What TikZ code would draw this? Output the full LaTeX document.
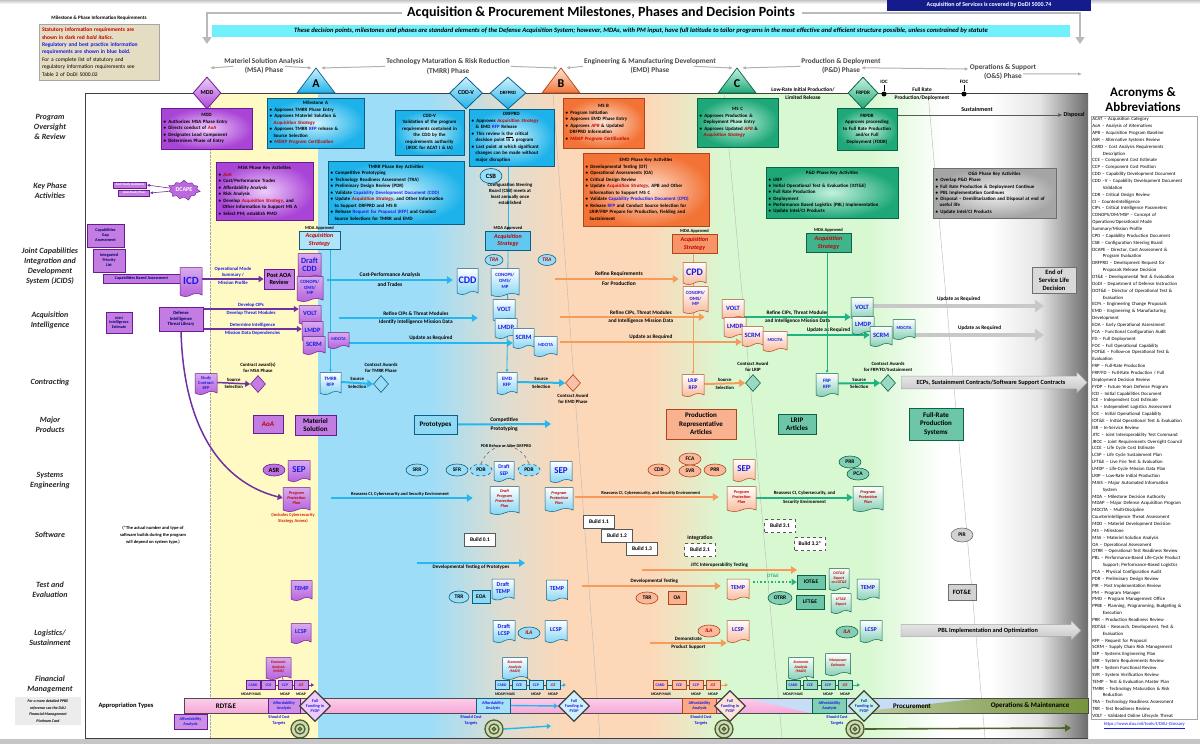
\documentclass[tikz,border=0pt]{standalone}
\usepackage{fontspec}
\setmainfont{Carlito}
\usetikzlibrary{shapes.geometric,shapes.symbols,shapes.arrows,arrows.meta,positioning}

\definecolor{purD}{HTML}{A945D6}
\definecolor{purL}{HTML}{EFCBFB}
\definecolor{purE}{HTML}{6A1B8F}
\definecolor{bluD}{HTML}{1DB2EA}
\definecolor{bluL}{HTML}{CFF1FC}
\definecolor{bluE}{HTML}{0D5E86}
\definecolor{orgD}{HTML}{F37336}
\definecolor{orgL}{HTML}{FDE5D6}
\definecolor{orgE}{HTML}{B0441A}
\definecolor{grnD}{HTML}{1EA878}
\definecolor{grnL}{HTML}{C4F1DD}
\definecolor{grnE}{HTML}{0B6446}
\definecolor{gryD}{HTML}{A5A5A5}
\definecolor{gryL}{HTML}{F4F4F4}
\definecolor{gryE}{HTML}{6F6F6F}
\definecolor{bgYel}{HTML}{FFFAC4}
\definecolor{bgBlu}{HTML}{9EDDF8}
\definecolor{bgTan}{HTML}{FCD8B8}
\definecolor{bgMid}{HTML}{DCDDD2}
\definecolor{bgGrn}{HTML}{D8F8D2}
\definecolor{cyArr}{HTML}{25B8F0}
\definecolor{orArr}{HTML}{F79A5A}
\definecolor{grArr}{HTML}{1FB383}
\definecolor{puArr}{HTML}{7030A0}
\definecolor{gyArr}{HTML}{C8C8C8}
\definecolor{navy}{HTML}{141C8C}
\definecolor{banner}{HTML}{6FF0FA}
\definecolor{legend}{HTML}{E4DDC2}
\definecolor{statred}{HTML}{C00000}
\definecolor{regblue}{HTML}{1A1AE6}
\definecolor{pinkbar}{HTML}{F7A8D8}
\definecolor{olive}{HTML}{4F6228}
\definecolor{procblu}{HTML}{C6DDF5}
\definecolor{omgrn}{HTML}{77933C}

\newcommand\fs[2]{\fontsize{#1}{#2}\selectfont}
\newcommand\sr[1]{\textcolor{statred}{\textit{#1}}}
\newcommand\rb[1]{\textcolor{regblue}{#1}}
\newcommand\itm{\textbullet\enspace}
\newcommand\cnt{\hspace*{0.85em}}
\newcommand\hd[1]{\makebox[\hsize][c]{#1}}
\newcommand\acn{\hspace*{2.2em}}

\pgfdeclarelayer{bg}
\pgfdeclarelayer{mid}
\pgfsetlayers{bg,mid,main}

\begin{document}
\begin{tikzpicture}[x=1pt,y=-1pt,
  every node/.style={font=\bfseries\fs{5}{6.3}, inner sep=1pt},
  rowlab/.style={font=\bfseries\itshape\fs{8}{10.2}, align=center, text=black!85},
  phtxt/.style={font=\bfseries\fs{7.3}{9.6}, align=center, text=black!72},
  lbl/.style={font=\bfseries\fs{4.8}{5.8}, align=center, inner sep=1.2pt},
  mda/.style={font=\bfseries\fs{4.5}{5}, inner sep=0.5pt},
  keybox/.style={draw, line width=0.6pt, align=left, inner sep=2pt, font=\bfseries\fs{4.9}{6.5}},
  pkey/.style={keybox, draw=purE, inner color=purL, outer color=purD},
  bkey/.style={keybox, draw=bluE, inner color=bluL, outer color=bluD},
  okey/.style={keybox, draw=orgE, inner color=orgL, outer color=orgD},
  gkey/.style={keybox, draw=grnE, inner color=grnL, outer color=grnD},
  ykey/.style={keybox, draw=gryE, inner color=gryL, outer color=gryD},
  sbox/.style={draw, line width=0.6pt, align=center, inner sep=0.8pt},
  pbx/.style={sbox, draw=purE, fill=purD!70!white},
  bbx/.style={sbox, draw=bluE, fill=bluD!50!white},
  obx/.style={sbox, draw=orgE, fill=orgD!55!white},
  gbx/.style={sbox, draw=grnE, fill=grnD!65!white},
  ybx/.style={sbox, draw=gryE, fill=gryD!55!white},
  acqs/.style={draw, line width=0.8pt, align=center, font=\bfseries\itshape\fs{6}{7.5}, text=statred, minimum width=45pt, minimum height=19pt, inner sep=0.5pt},
  doc/.style={tape, tape bend top=none, tape bend height=3pt, draw, line width=0.5pt, align=center, inner sep=0.5pt, text=regblue, font=\bfseries\fs{6.5}{7}},
  pdoc/.style={doc, draw=purE, top color=purD!45!white, bottom color=purD!85!white},
  bdoc/.style={doc, draw=bluE, top color=white, bottom color=bluD!55!white},
  odoc/.style={doc, draw=orgE, top color=white, bottom color=orgD!50!white},
  gdoc/.style={doc, draw=grnE, top color=white, bottom color=grnD!55!white},
  redit/.style={text=statred, font=\bfseries\itshape\fs{4.2}{5}},
  ell/.style={ellipse, draw, line width=0.6pt, inner sep=0.3pt, minimum width=22pt, minimum height=12pt, font=\bfseries\fs{5.5}{6}},
  pell/.style={ell, draw=purE, fill=purD!75!white},
  bell/.style={ell, draw=bluE, fill=bluD!45!white},
  bdell/.style={bell, dashed},
  oell/.style={ell, draw=orgE, fill=orgD!50!white},
  gell/.style={ell, draw=grnE, fill=grnD!55!white},
  yell/.style={ell, draw=gryE, fill=gryD!50!white},
  cdia/.style={diamond, draw, line width=0.6pt, inner sep=0pt, minimum width=15pt, minimum height=17pt},
  mdia/.style={diamond, draw, line width=0.8pt, inner sep=0pt, aspect=0.85, font=\bfseries\fs{6}{6.5}},
  ffdia/.style={diamond, draw=black!75, line width=1.2pt, fill=white, inner sep=0pt, minimum width=30pt, minimum height=30pt, font=\bfseries\fs{4.2}{4.9}, text=regblue, align=center},
  fbx/.style={draw, line width=0.5pt, font=\bfseries\fs{3.8}{4}, text=regblue, minimum width=14pt, minimum height=9pt, inner sep=0.4pt},
  affb/.style={draw, line width=0.5pt, font=\bfseries\fs{4.2}{5}, text=regblue, align=center, minimum width=34pt, minimum height=15pt, inner sep=0.4pt},
  small/.style={font=\bfseries\fs{3.8}{4.2}, inner sep=0.3pt},
  tgt/.style={circle, minimum size=18pt, fill=omgrn!35!white, draw=olive, line width=1.3pt,
    path picture={\draw[olive, line width=1.3pt] (path picture bounding box.center) circle (5pt) circle (1.8pt);}},
  bld/.style={draw=gray!70!black, fill=white, font=\bfseries\fs{5.5}{6}, inner sep=2pt, minimum width=31pt, minimum height=13pt},
  bldd/.style={bld, dashed},
  sarr/.style={single arrow, draw=gray!70, top color=gray!15, bottom color=gray!45, single arrow head extend=4pt, inner sep=3.5pt, font=\bfseries\fs{6.3}{7}},
  arr/.style={line width=2pt, -{Triangle[length=6pt,width=7.5pt]}},
  carr/.style={arr, draw=cyArr},
  oarr/.style={arr, draw=orArr},
  garr/.style={arr, draw=grArr},
  parr/.style={line width=1.5pt, draw=puArr, -{Triangle[length=5pt,width=6pt]}},
  gyarr/.style={line width=4pt, draw=gyArr, -{Triangle[length=9pt,width=12pt]}},
  phArr/.style={line width=1pt, draw=gray!60, -{Latex[length=4pt,width=3.5pt]}},
  vline/.style={line width=0.8pt, -{Latex[length=3pt,width=3pt]}},
  tiny line/.style={line width=0.5pt}
]
\useasboundingbox (0,0) rectangle (1200,744);

% backgrounds
\begin{pgfonlayer}{bg}
\fill[white] (0,0) rectangle (1200,744);
\shade[top color=gray!45, bottom color=white] (0,0) rectangle (1200,4);
\fill[bgYel] (210,93) rectangle (318,738);
\fill[bgBlu] (318,93) rectangle (430,738);
\shade[left color=bgBlu, right color=bgMid] (430,93) rectangle (500,738);
\shade[left color=bgMid, right color=bgTan] (500,93) rectangle (565,738);
\fill[bgTan] (565,93) rectangle (650,738);
\shade[left color=bgTan, right color=bgGrn] (650,93) rectangle (725,738);
\fill[bgGrn] (725,93) rectangle (870,738);
\shade[left color=bgGrn, right color=white] (870,93) rectangle (945,738);
\shade[left color=white, right color=gray!85!black, middle color=gray!20] (990,93) rectangle (1088,738);
\fill[gray!45] (0,739) rectangle (1200,744);
\draw[line width=0.8pt, black!75] (1088,93) -- (85,93) -- (85,738) -- (1088,738);
\draw[gray!70, densely dotted] (210,93) -- (210,738);
\draw[gray!55, thin] (553,93) -- (600,738);
\draw[gray!55, thin] (724,93) -- (782,738);
\draw[gray!55, thin] (928,93) -- (985,738);
% appropriation bar
\fill[procblu] (745,698) rectangle (1088,713);
\shade[top color=pinkbar!55!white, bottom color=pinkbar] (184,698) -- (745,698) -- (810,713) -- (184,713) -- cycle;
\shade[left color=omgrn!45!white, right color=omgrn] (849,713) -- (983,698) -- (1088,698) -- (1088,713) -- cycle;
\draw[gray!60!black, line width=0.5pt] (184,698) rectangle (1088,713);
\end{pgfonlayer}

% title area
\node[font=\bfseries\fs{14}{16}] (title) at (601,13) {Acquisition \& Procurement Milestones, Phases and Decision Points};
\coordinate (brL) at (207,44);
\coordinate (brR) at (1080,44);
\node[fill=navy, text=white, minimum width=204pt, minimum height=11pt, font=\bfseries\fs{6}{6}] (svc) at (989,5) {Acquisition of Services is covered by DoDI 5000.74};
\node[fill=banner, minimum width=858pt, minimum height=12pt, font=\bfseries\itshape\fs{6.6}{7}] (banner) at (641,31) {These decision points, milestones and phases are standard elements of the Defense Acquisition System; however, MDAs, with PM input, have full latitude to tailor programs in the most effective and efficient structure possible, unless constrained by statute};

\node[font=\bfseries\fs{5}{5}] (legTitle) at (99,18) {Milestone \& Phase Information Requirements};
\node[draw=gray!70, fill=legend, minimum width=120pt, minimum height=56pt, text width=114pt, align=left, font=\bfseries\fs{5.5}{7.4}] (legend) at (99,52)
  {\textcolor{statred}{Statutory information requirements are}\\
   \textcolor{statred}{shown in dark red \textit{bold italics}.}\\
   \textcolor{regblue}{Regulatory and best practice information}\\
   \textcolor{regblue}{requirements are shown in blue bold.}\\
   \mdseries For a  complete list of statutory and\\
   \mdseries regulatory information requirements see\\
   \mdseries Table 2 of DoDI 5000.02};

% phases
\node[phtxt] (msaTxt) at (264,62) {Materiel Solution Analysis};
\node[phtxt, below=0pt of msaTxt] (msaPh) {(MSA) Phase};
\node[phtxt] (tmrrTxt) at (448,62) {Technology Maturation \& Risk Reduction};
\node[phtxt, below=0pt of tmrrTxt] (tmrrPh) {(TMRR) Phase};
\node[phtxt] (emdTxt) at (650,62) {Engineering \& Manufacturing Development};
\node[phtxt, below=0pt of emdTxt] (emdPh) {(EMD) Phase};
\node[phtxt] (pdTxt) at (841,62) {Production \& Deployment};
\node[phtxt, below=0pt of pdTxt] (pdPh) {(P\&D) Phase};
\node[phtxt] (osTxt) at (1003,68) {Operations \& Support};
\node[phtxt, below=0pt of osTxt] (osPh) {(O\&S) Phase};
\coordinate (msaL) at (210,68);
\coordinate (msaR) at (312,68);
\coordinate (tmrrL) at (321,68);
\coordinate (tmrrR) at (558,68);
\coordinate (emdL) at (566,68);
\coordinate (emdR) at (733,68);
\coordinate (pdL) at (742,68);
\coordinate (osR) at (1082,74);

% milestones
\path[draw=bluE, line width=0.7pt, top color=bluL, bottom color=bluD] (316,68) -- (335,93) -- (297,93) -- cycle;
\node[font=\bfseries\fs{12}{12}] (msA) at (316,84) {A};
\path[draw=orgE, line width=0.7pt, top color=orgL, bottom color=orgD] (561,68) -- (580,93) -- (542,93) -- cycle;
\node[font=\bfseries\fs{12}{12}] (msB) at (561,84) {B};
\path[draw=grnE, line width=0.7pt, top color=grnL, bottom color=grnD] (737,68) -- (756,93) -- (718,93) -- cycle;
\node[font=\bfseries\fs{12}{12}] (msC) at (737,84) {C};
\node[mdia, draw=purE, top color=purL, bottom color=purD, minimum width=28pt, minimum height=32pt] (mddDia) at (207,93) {MDD};
\node[mdia, draw=bluE, top color=bluL, bottom color=bluD, minimum width=33pt, minimum height=32pt] (cddvDia) at (466,93) {CDD-V};
\node[mdia, draw=bluE, top color=bluL, bottom color=bluD, minimum width=36pt, minimum height=32pt, font=\bfseries\fs{4.8}{5}] (drfDia) at (508,93) {DRFPRD};
\node[mdia, draw=grnE, top color=grnL, bottom color=grnD, minimum width=30pt, minimum height=32pt, font=\bfseries\fs{5.2}{5.5}] (frpDia) at (863,93) {FRPDR};
\node (iocTxt) at (884,82) {IOC};
\node[circle, fill=black, minimum size=5pt, inner sep=0pt] (iocDot) at (884,94) {};
\node (focTxt) at (964,82) {FOC};
\node[circle, fill=black, minimum size=5pt, inner sep=0pt] (focDot) at (964,94) {};
\node[align=center, font=\bfseries\fs{5.4}{8}] (lrip) at (803,94) {Low-Rate Initial Production/\\Limited Release};
\node[align=center, font=\bfseries\fs{5.4}{8}] (frate) at (922,94) {Full Rate\\Production/Deployment};

% row labels
\node[rowlab] (rowPO) at (50,127) {Program\\Oversight\\\& Review};
\node[rowlab] (rowKP) at (50,190.5) {Key Phase\\Activities};
\node[rowlab] (rowJC) at (50,266.5) {Joint Capabilities\\Integration and\\Development\\System (JCIDS)};
\node[rowlab] (rowAI) at (50,320.5) {Acquisition\\Intelligence};
\node[rowlab] (rowCT) at (50,382) {Contracting};
\node[rowlab] (rowMP) at (50,424.5) {Major\\Products};
\node[rowlab] (rowSE) at (50,480.5) {Systems\\Engineering};
\node[rowlab] (rowSW) at (50,535) {Software};
\node[rowlab] (rowTE) at (50,589.5) {Test and\\Evaluation};
\node[rowlab] (rowLS) at (50,637.5) {Logistics/\\Sustainment};
\node[rowlab] (rowFM) at (50,684.5) {Financial\\Management};
\node[fill=gray!15, minimum width=66pt, minimum height=28pt, align=center, font=\bfseries\itshape\fs{3.9}{6.6}] (ppbe) at (48,711) {For a more detailed PPBE\\reference see the DAU\\Financial Management\\Platinum Card};
\node[font=\bfseries\fs{6.5}{7}] (apTypes) at (126,706) {Appropriation Types};

% program oversight boxes
\node[pkey, minimum width=91pt, minimum height=41pt, text width=86pt] (mddBox) at (206.5,128.5)
 {\hd{MDD}\\
  \itm Authorizes MSA Phase Entry\\
  \itm Directs conduct of \sr{AoA}\\
  \itm Designates Lead Component\\
  \itm Determines Phase of Entry};
\node[bkey, minimum width=97pt, minimum height=50pt, text width=92pt] (msABox) at (315.5,123)
 {\hd{Milestone A}\\
  \itm Approves TMRR Phase Entry\\
  \itm Approves Materiel Solution \&\\
  \cnt\sr{Acquisition Strategy}\\
  \itm Approves TMRR \rb{RFP} release \&\\
  \cnt Source Selection\\
  \itm \sr{MDAP Program Certification}};
\node[bkey, align=center, minimum width=69pt, minimum height=45pt, text width=64pt] (cddvBox) at (429.5,132.5)
 {CDD-V\\Validation of the program\\requirements contained in\\the CDD by the\\requirements authority\\(JROC for ACAT I \& IA)};
\node[bkey, minimum width=85pt, minimum height=57pt, text width=80pt] (drfBox) at (511.5,137.5)
 {\hd{DRFPRD}\\
  \itm Approves \sr{Acquisition Strategy}\\
  \cnt\& EMD \rb{RFP} Release\\
  \itm This review is \underline{the} critical\\
  \cnt decision point in a program\\
  \itm Last point at which significant\\
  \cnt changes can be made without\\
  \cnt major disruption};
\node[okey, minimum width=81pt, minimum height=50pt, text width=76pt] (msBBox) at (603.5,123)
 {\hd{MS B}\\
  \itm Program Initiation\\
  \itm Approves EMD Phase Entry\\
  \itm Approves \sr{APB} \& Updated\\
  \cnt DRFPRD Information\\
  \itm \sr{MDAP Program Certification}};
\node[gkey, minimum width=81pt, minimum height=49pt, text width=76pt] (msCBox) at (737.5,122.5)
 {\hd{MS C}\\
  \itm Approves  Production \&\\
  \cnt Deployment Phase Entry\\
  \itm Approves Updated \sr{APB} \&\\
  \cnt\sr{Acquisition Strategy}};
\node[gkey, align=center, minimum width=60pt, minimum height=42pt, text width=56pt] (frpBox) at (867,129)
 {FRPDR\\Approves proceeding\\to Full Rate Production\\and/or Full\\Deployment (FDDR)};
\node[font=\bfseries\fs{6}{6}] (sust) at (977,109) {Sustainment};
\node[font=\bfseries\fs{6}{6}] (disp) at (1074,115) {Disposal};

% key phase activities
\node[pkey, minimum width=97pt, minimum height=58pt, text width=92pt] (msaKey) at (264.5,191)
 {\hd{MSA Phase Key Activities}\\
  \itm \sr{AoA}\\
  \itm Cost/Performance Trades\\
  \itm Affordability Analysis\\
  \itm Risk Analysis\\
  \itm Develop \sr{Acquisition Strategy}, and\\
  \cnt Other Information to Support MS A\\
  \itm Select PM; establish PMO};
\node[bkey, minimum width=136pt, minimum height=63pt, text width=131pt] (tmrrKey) at (396,192.5)
 {\hd{TMRR Phase Key Activities}\\
  \itm Competitive Prototyping\\
  \itm Technology Readiness Assessment (TRA)\\
  \itm Preliminary Design Review (PDR)\\
  \itm Validate \rb{Capability Development Document (CDD)}\\
  \itm Update \sr{Acquisition Strategy}, and Other Information\\
  \cnt to Support DRFPRD and MS B\\
  \itm Release \rb{Request for Proposal (RFP)} and Conduct\\
  \cnt Source Selections for TMRR and EMD};
\node[okey, minimum width=126pt, minimum height=73pt, text width=121pt] (emdKey) at (646,189.5)
 {\hd{EMD Phase Key Activities}\\
  \itm Developmental Testing (DT)\\
  \itm Operational Assessments (OA)\\
  \itm Critical Design Review\\
  \itm Update \sr{Acquisition Strategy}, APB and Other\\
  \cnt Information to Support MS C\\
  \itm Validate \rb{Capability Production Document (CPD)}\\
  \itm Release \rb{RFP} and Conduct Source Selection for\\
  \cnt LRIP/FRP Prepare for Production, Fielding and\\
  \cnt Sustainment};
\node[gkey, minimum width=132pt, minimum height=51pt, text width=127pt, font=\bfseries\fs{4.9}{6.3}] (pdKey) at (832,192.5)
 {\hd{P\&D Phase Key Activities}\\
  \itm LRIP\\
  \itm Initial Operational Test \& Evaluation (IOT\&E)\\
  \itm Full Rate Production\\
  \itm Deployment\\
  \itm Performance Based Logistics (PBL) Implementation\\
  \itm Update Intel/CI Products};
\node[ykey, minimum width=123pt, minimum height=50pt, text width=118pt, font=\bfseries\fs{4.9}{6.3}] (osKey) at (994.5,193)
 {\hd{O\&S Phase Key Activities}\\
  \itm Overlap P\&D Phase\\
  \itm Full Rate Production \& Deployment Continue\\
  \itm PBL Implementation Continues\\
  \itm Disposal -- Demilitarization and Disposal at end of\\
  \cnt useful life\\
  \itm Update Intel/CI Products};
\node[bell, minimum width=22pt, minimum height=15pt, font=\bfseries\fs{6.5}{7}] (csb) at (491,176) {CSB};
\node[align=center, font=\bfseries\fs{4.8}{6}] (csbTxt) at (510,194) {Configuration Steering\\Board (CSB) meets at\\least annually once\\established};
\node[starburst, starburst points=11, starburst point height=4pt, fill=purD!80!white, draw=purE, minimum width=34pt, minimum height=22pt, inner sep=0pt, font=\bfseries\fs{6}{6}, text=white] (dcape) at (184,190) {DCAPE};
\node[pbx, minimum width=33pt, minimum height=6pt, font=\bfseries\fs{3.4}{3.6}, text=white] (aoaSG) at (130,185) {AoA Study Guidance};
\node[pbx, minimum width=31pt, minimum height=6pt, font=\bfseries\fs{3.4}{3.6}, text=white] (aoaSP) at (134,193) {AoA Study Plan};

% JCIDS row
\node[pbx, minimum width=37pt, minimum height=23pt, font=\bfseries\fs{4.2}{5}, text=blue!40!black] (cga) at (105.5,235.5) {Capabilities\\Gap\\Assessment};
\node[pbx, minimum width=32pt, minimum height=23pt, font=\bfseries\fs{4.2}{5}, text=blue!40!black] (ipl) at (109,260.5) {Integrated\\Priority\\List};
\node[pbx, minimum width=77pt, minimum height=9pt, font=\bfseries\fs{4.2}{5}, text=blue!40!black] (cba) at (141.5,278.5) {Capabilities Based Assessment};
\node[pdoc, minimum width=22pt, minimum height=29pt, font=\bfseries\fs{11}{11}] (icdDoc) at (191,280.5) {ICD};
\node[pbx, minimum width=30pt, minimum height=20pt, font=\bfseries\fs{6.3}{7.5}] (postAoA) at (279,279) {Post AOA\\Review};
\node[acqs, draw=bluE, fill=bluD!35!white, minimum width=41pt, minimum height=18pt] (mAcqS) at (319.5,240) {Acquisition\\Strategy};
\node[mda, above=0pt of mAcqS] (mdaA) {MDA Approved};
\node[pdoc, minimum width=23pt, minimum height=25pt, font=\bfseries\fs{8}{8.5}] (draftCDD) at (309.5,264.5) {Draft\\CDD};
\node[pdoc, minimum width=26pt, minimum height=25pt, font=\bfseries\fs{4.8}{5.8}] (conopsP) at (310,287.5) {CONOPS/\\OMS/\\MP};
\node[bdoc, minimum width=21pt, minimum height=26pt, font=\bfseries\fs{10}{10}] (cddDoc) at (467.5,280) {CDD};
\node[acqs, draw=bluE, fill=bluD!70!white] (bAcqS) at (508,240.5) {Acquisition\\Strategy};
\node[mda, above=0pt of bAcqS] (mdaDRF) {MDA Approved};
\node[bell, minimum width=18pt, minimum height=11pt, font=\bfseries\itshape\fs{5.5}{6}, text=statred] (traA) at (494,260) {TRA};
\node[bell, minimum width=18pt, minimum height=11pt, font=\bfseries\itshape\fs{5.5}{6}, text=statred] (traB) at (547,260) {TRA};
\node[bdoc, minimum width=28pt, minimum height=28pt, font=\bfseries\fs{4.8}{5.8}] (conopsB) at (505,281) {CONOPS/\\OMS/\\MP};
\node[acqs, draw=orgE, fill=orgD!75!white] (oAcqS) at (694.5,244) {Acquisition\\Strategy};
\node[mda, above=0pt of oAcqS] (mdaB) {MDA Approved};
\node[odoc, minimum width=23pt, minimum height=22pt, font=\bfseries\fs{10}{10}] (cpdDoc) at (694.5,272) {CPD};
\node[odoc, minimum width=25pt, minimum height=27pt, font=\bfseries\fs{4.8}{5.8}] (conopsO) at (695.5,298.5) {CONOPS/\\OMS/\\MP};
\node[acqs, draw=grnE, fill=grnD!85!white] (gAcqS) at (828.5,243) {Acquisition\\Strategy};
\node[mda, above=0pt of gAcqS] (mdaC) {MDA Approved};
\node[ybx, fill=gray!30, minimum width=44pt, minimum height=26pt, font=\bfseries\fs{6.5}{7.8}] (eosl) at (1054,280) {End of\\Service Life\\Decision};

% acquisition intelligence row
\node[pbx, minimum width=26pt, minimum height=21pt, font=\bfseries\fs{4}{4.8}, text=blue!40!black] (jie) at (119,322.5) {Joint\\Intelligence\\Estimate};
\node[pbx, minimum width=44pt, minimum height=24pt, font=\bfseries\fs{4.6}{5.5}, text=blue!40!black] (ditl) at (181,319) {Defense\\Intelligence\\Threat Library};
\node[pdoc, minimum width=22pt, minimum height=19pt] (voltP) at (310,313.5) {VOLT};
\node[pdoc, minimum width=21pt, minimum height=20pt] (lmdpP) at (312.5,330) {LMDP};
\node[pdoc, minimum width=22pt, minimum height=18pt] (scrmP) at (314,344) {SCRM};
\node[pdoc, minimum width=21pt, minimum height=16pt, font=\bfseries\fs{4.3}{5}] (mdcitaP) at (338.5,339) {MDCITA};
\node[bdoc, minimum width=22pt, minimum height=22pt] (voltB) at (504,309) {VOLT};
\node[bdoc, minimum width=22pt, minimum height=20pt] (lmdpB) at (506,327) {LMDP};
\node[bdoc, minimum width=21pt, minimum height=20pt] (scrmB) at (523.5,337) {SCRM};
\node[bdoc, minimum width=23pt, minimum height=20pt, font=\bfseries\fs{4.5}{5}] (mdcitaB) at (545.5,345) {MDCITA};
\node[odoc, minimum width=22pt, minimum height=20pt] (voltO) at (733,308) {VOLT};
\node[odoc, minimum width=22pt, minimum height=20pt] (lmdpO) at (735,326) {LMDP};
\node[odoc, minimum width=21pt, minimum height=20pt] (scrmO) at (752.5,335) {SCRM};
\node[odoc, minimum width=24pt, minimum height=20pt, font=\bfseries\fs{4.5}{5}] (mdcitaO) at (775,340) {MDCITA};
\node[gdoc, minimum width=22pt, minimum height=22pt] (voltG) at (862,307) {VOLT};
\node[gdoc, minimum width=22pt, minimum height=18pt] (lmdpG) at (863,324) {LMDP};
\node[gdoc, minimum width=22pt, minimum height=20pt] (scrmG) at (881,335) {SCRM};
\node[gdoc, minimum width=22pt, minimum height=20pt, font=\bfseries\fs{4.5}{5}] (mdcitaG) at (904,328) {MDCITA};
\coordinate (cR) at (339,318);
\coordinate (cU) at (349,343);
\coordinate (oR1) at (555,279);
\coordinate (oR2) at (560,317);
\coordinate (oR3) at (560,342);
\coordinate (gyEnd1) at (1044,306);
\coordinate (gyEnd2) at (1044,335);

% contracting row
\node[pdoc, minimum width=22pt, minimum height=21pt, font=\bfseries\fs{4.4}{5}] (studyRFP) at (206,382.5) {Study\\Contract\\RFP};
\node[cdia, draw=purE, fill=purD!70!white] (msaCD) at (258,384) {};
\node[lbl, above=1pt of msaCD] (msaCA) {Contract award(s)\\for MSA Phase};
\node[bdoc, minimum width=21pt, minimum height=22pt, font=\bfseries\fs{5}{6}] (tmrrRFP) at (330.5,382) {TMRR\\RFP};
\node[cdia, draw=bluE, fill=bluD!45!white] (tmrrCD) at (381,384) {};
\node[lbl, above=1pt of tmrrCD] (tmrrCA) {Contract Awards\\for TMRR Phase};
\node[bdoc, minimum width=20pt, minimum height=22pt, font=\bfseries\fs{5}{6}] (emdRFP) at (507,382) {EMD\\RFP};
\node[cdia, draw=orgE, fill=orgD!45!white] (emdCD) at (573,383) {};
\node[lbl, below=1pt of emdCD] (emdCA) {Contract Award\\for EMD Phase};
\node[odoc, minimum width=22pt, minimum height=22pt, font=\bfseries\fs{5.5}{6.5}] (lripRFP) at (693,384) {LRIP\\RFP};
\node[cdia, draw=grnE, fill=grnD!45!white] (lripCD) at (753,383) {};
\node[lbl, above=1pt of lripCD] (lripCA) {Contract Award\\for LRIP};
\node[gdoc, minimum width=22pt, minimum height=23pt, font=\bfseries\fs{5}{6}] (frpRFP) at (827,383.5) {FRP\\RFP};
\node[cdia, draw=grnE, fill=grnD!45!white] (frpCD) at (888,383) {};
\node[lbl, above=1pt of frpCD] (frpCA) {Contract Awards\\for FRP/FD/Sustainment};
\node[sarr, minimum height=186pt] (ecps) at (991,382.5) {ECPs, Sustainment Contracts/Software  Support Contracts};

% major products
\node[pbx, minimum width=30pt, minimum height=18pt, font=\bfseries\itshape\fs{7}{7}, text=statred] (aoaBox) at (268,424) {AoA};
\node[pbx, minimum width=41pt, minimum height=20pt, font=\bfseries\fs{7}{8}] (matSol) at (315.5,425) {Materiel\\Solution};
\node[bbx, minimum width=43pt, minimum height=19pt, font=\bfseries\fs{7}{7}] (proto) at (435.5,424.5) {Prototypes};
\coordinate (protoEnd) at (551,424);
\node[obx, minimum width=70pt, minimum height=30pt, font=\bfseries\fs{7}{8.5}] (prodRep) at (701,424) {Production\\Representative\\Articles};
\node[gbx, minimum width=38pt, minimum height=20pt, font=\bfseries\fs{7}{8}] (lripArt) at (797,424) {LRIP\\Articles};
\node[gbx, minimum width=54pt, minimum height=32pt, font=\bfseries\fs{7}{8.5}] (frpSys) at (936,424) {Full-Rate\\Production\\Systems};

% systems engineering
\node[pell, font=\bfseries\fs{6.5}{7}] (asr) at (274,470) {ASR};
\node[pdoc, minimum width=22pt, minimum height=21pt, font=\bfseries\fs{9}{9}] (sepP) at (299,469.5) {SEP};
\node[pdoc, minimum width=27pt, minimum height=24pt, redit] (pppP) at (296.5,498) {Program\\Protection\\Plan};
\node[align=center, font=\bfseries\fs{4.5}{5.6}, text=statred!70!orange] (cyber) at (293,518) {(Includes Cybersecurity\\Strategy Annex)};
\node[bell] (srr) at (417,470) {SRR};
\node[bell] (sfr) at (457,470) {SFR};
\node[bdell] (pdr1) at (481,470) {PDR};
\node[bdoc, minimum width=20pt, minimum height=20pt, font=\bfseries\fs{5.5}{6.5}] (draftSEP) at (504,470) {Draft\\SEP};
\node[bdell] (pdr2) at (529,470) {PDR};
\node[bdoc, minimum width=22pt, minimum height=21pt, font=\bfseries\fs{9}{9}] (sepB) at (561,470.5) {SEP};
\node[font=\bfseries\fs{4.3}{5}] (pdrNote) at (506,446) {PDR Before or After DRFPRD};
\node[bdoc, minimum width=29pt, minimum height=28pt, redit] (dpppB) at (504.5,499) {Draft\\Program\\Protection\\Plan};
\node[bdoc, minimum width=28pt, minimum height=24pt, redit] (pppB) at (559,498) {Program\\Protection\\Plan};
\node[oell] (cdr) at (659,470) {CDR};
\node[oell] (fca) at (690,459) {FCA};
\node[oell] (svr) at (690,471) {SVR};
\node[oell] (prr) at (715,470) {PRR};
\node[odoc, minimum width=22pt, minimum height=22pt, font=\bfseries\fs{9}{9}] (sepO) at (744,469) {SEP};
\node[odoc, minimum width=29pt, minimum height=25pt, redit] (pppO) at (741.5,497.5) {Program\\Protection\\Plan};
\node[gell] (prrG) at (850,462) {PRR};
\node[gell] (pca) at (858,474) {PCA};
\node[gdoc, minimum width=30pt, minimum height=25pt, redit] (pppG) at (868,497.5) {Program\\Protection\\Plan};
\coordinate (oRe) at (575,497);

% software
\node[align=center, font=\bfseries\fs{4.5}{7}] (swNote) at (153,535) {(*The actual number and type of\\software builds during the program\\will depend on system type.)};
\node[bld] (b01) at (480,540) {Build 0.1};
\node[bld] (b11) at (599,522) {Build 1.1};
\node[bld] (b12) at (617,536) {Build 1.2};
\node[bld] (b13) at (642,549) {Build 1.3};
\node[font=\bfseries\fs{5.5}{6}] (integ) at (700,538) {Integration};
\node[bldd] (b21) at (700,550) {Build 2.1};
\node[bldd] (b31) at (780,526) {Build 3.1};
\node[bldd] (b32) at (810,544) {Build 3.2*};
\node[yell, minimum height=14pt] (pir) at (962,535) {PIR};

% test and evaluation
\coordinate (dtpS) at (417,563);
\coordinate (dtpE) at (525,563);
\node[pdoc, minimum width=21pt, minimum height=20pt, font=\bfseries\fs{6}{6}] (tempP) at (301.5,589) {TEMP};
\node[bell, minimum width=20pt] (trrB) at (459,597) {TRR};
\node[bbx, minimum width=18pt, minimum height=13pt, font=\bfseries\fs{5.5}{6}] (eoa) at (481,597) {EOA};
\node[bdoc, minimum width=22pt, minimum height=21pt, font=\bfseries\fs{6}{7}] (draftTEMP) at (503,588) {Draft\\TEMP};
\node[bdoc, minimum width=21pt, minimum height=21pt, font=\bfseries\fs{6}{6}] (tempB) at (557,589) {TEMP};
\coordinate (dtS) at (582,586);
\coordinate (jitcS) at (642,570);
\coordinate (jitcE) at (797,570);
\node[odoc, minimum width=22pt, minimum height=21pt, font=\bfseries\fs{6}{6}] (tempO) at (738,588) {TEMP};
\node[oell, minimum width=22pt] (trrO) at (647,598) {TRR};
\node[obx, minimum width=18pt, minimum height=13pt, font=\bfseries\fs{5.5}{6}] (oa) at (677,598) {OA};
\node[gbx, minimum width=28pt, minimum height=14pt, font=\bfseries\fs{5.5}{6}] (iote) at (811,582) {IOT\&E};
\node[gell, minimum width=24pt, minimum height=13pt] (otrr) at (780,598) {OTRR};
\node[gbx, minimum width=28pt, minimum height=14pt, font=\bfseries\fs{5.5}{6}] (lfte) at (810,602) {LFT\&E};
\node[gdoc, minimum width=20pt, minimum height=22pt, redit, font=\bfseries\itshape\fs{3.8}{4.5}] (doteRep) at (839,578) {DOT\&E\\Report\\on IOT\&E};
\node[gdoc, minimum width=20pt, minimum height=20pt, redit, font=\bfseries\itshape\fs{3.8}{4.5}] (lfteRep) at (841,602) {LFT\&E\\Report};
\node[gdoc, minimum width=22pt, minimum height=21pt, font=\bfseries\fs{6}{6}] (tempG) at (868,588) {TEMP};
\node[ybx, fill=gray!35, minimum width=28pt, minimum height=16pt, font=\bfseries\fs{6.5}{7}] (fote) at (962,592) {FOT\&E};

% logistics
\node[pdoc, minimum width=20pt, minimum height=20pt, font=\bfseries\fs{6}{6}] (lcspP) at (301,632) {LCSP};
\node[bdoc, minimum width=22pt, minimum height=22pt, font=\bfseries\fs{6}{7}] (draftLCSP) at (504,630) {Draft\\LCSP};
\node[bell, font=\bfseries\itshape\fs{5.5}{6}, text=statred] (ilaB) at (529,633) {ILA};
\node[bdoc, minimum width=22pt, minimum height=22pt, font=\bfseries\fs{6}{6}] (lcspB) at (556,630) {LCSP};
\node[oell, font=\bfseries\itshape\fs{5.5}{6}, text=statred] (ilaO) at (709,631) {ILA};
\node[odoc, minimum width=22pt, minimum height=22pt, font=\bfseries\fs{6}{6}] (lcspO) at (738,630) {LCSP};
\coordinate (dpsS) at (650,643);
\node[gell, font=\bfseries\itshape\fs{5.5}{6}, text=statred] (ilaG) at (847,632) {ILA};
\node[gdoc, minimum width=22pt, minimum height=22pt, font=\bfseries\fs{6}{6}] (lcspG) at (871,630) {LCSP};
\node[sarr, minimum height=180pt, inner ysep=3pt] (pbl) at (988,630.5) {PBL Implementation and Optimization};

% financial management
\node[pdoc, minimum width=25pt, minimum height=22pt, redit, font=\bfseries\itshape\fs{3.8}{4.6}] (econP) at (278.5,667) {Economic\\Analysis\\(MAIS)};
\node[fbx, draw=purE, fill=purD!60!white] (cardP) at (253,685) {CARD};
\node[fbx, draw=purE, fill=purD!60!white] (cceP) at (268.5,685) {CCE};
\node[fbx, draw=purE, fill=purD!60!white] (ccpP) at (285,685) {CCP};
\node[fbx, draw=purE, fill=purD!60!white, text=statred, font=\bfseries\itshape\fs{3.8}{4}] (iceP) at (301,685) {ICE};
\coordinate (iceEndP) at (314,685);
\node[small] (mmP) at (251,694) {MDAP/MAIS};
\node[small] (mdP1) at (285,694) {MDAP};
\node[small] (mdP2) at (301,694) {MDAP};
\node[affb, draw=purE, fill=purD!60!white, minimum width=33pt] (affP1) at (190.5,721.5) {Affordability\\Analysis};
\node[font=\bfseries\fs{7}{7}] (rdte) at (226,706) {RDT\&E};
\node[affb, draw=purE, fill=purD!60!white, minimum width=32pt] (affP2) at (284,705.5) {Affordability\\Analysis};
\node[ffdia, fill=purL] (ffP) at (315,706) {Full\\Funding in\\FYDP};
\node[align=center, font=\bfseries\fs{4.3}{6.5}, text=regblue] (scP) at (279,720.5) {Should Cost\\Targets};
\node[tgt] (tgtP) at (300,729) {};

\node[bdoc, minimum width=25pt, minimum height=22pt, redit, font=\bfseries\itshape\fs{3.8}{4.6}] (econB) at (515,667) {Economic\\Analysis\\(MAIS)};
\node[fbx, draw=bluE, fill=bluD!40!white] (cardB) at (502,685) {CARD};
\node[fbx, draw=bluE, fill=bluD!40!white] (cceB) at (519,685) {CCE};
\node[fbx, draw=bluE, fill=bluD!40!white] (ccpB) at (536,685) {CCP};
\node[fbx, draw=bluE, fill=bluD!40!white, text=statred, font=\bfseries\itshape\fs{3.8}{4}] (iceB) at (553,685) {ICE};
\coordinate (iceEndB) at (566,685);
\node[small] (mmB) at (505,694) {MDAP/MAIS};
\node[small] (mdB1) at (536,694) {MDAP};
\node[small] (mdB2) at (553,694) {MDAP};
\node[affb, draw=bluE, fill=bluD!40!white] (affB) at (493,705.5) {Affordability\\Analysis};
\node[ffdia, fill=bluL] (ffB) at (574,706) {Full\\Funding in\\FYDP};
\node[align=center, font=\bfseries\fs{4.3}{6.5}, text=regblue] (scB) at (471,720.5) {Should Cost\\Targets};
\node[tgt] (tgtB) at (494,729) {};
\coordinate (tgtEndB) at (551,726);

\node[fbx, draw=orgE, fill=orgD!45!white] (cardO) at (660,685) {CARD};
\node[fbx, draw=orgE, fill=orgD!45!white] (cceO) at (679,685) {CCE};
\node[fbx, draw=orgE, fill=orgD!45!white] (ccpO) at (696,685) {CCP};
\node[fbx, draw=orgE, fill=orgD!45!white, text=statred, font=\bfseries\itshape\fs{3.8}{4}] (iceO) at (713,685) {ICE};
\coordinate (iceEndO) at (728,685);
\node[small] (mmO) at (661,694) {MDAP/MAIS};
\node[small] (mdO1) at (696,694) {MDAP};
\node[small] (mdO2) at (713,694) {MDAP};
\node[affb, draw=orgE, fill=orgD!60!white] (affO) at (699.5,705.5) {Affordability\\Analysis};
\node[ffdia, fill=orgL] (ffO) at (730,706) {Full\\Funding in\\FYDP};
\node[align=center, font=\bfseries\fs{4.3}{6.5}, text=regblue] (scO) at (701,720.5) {Should Cost\\Targets};
\node[tgt] (tgtO) at (724,729) {};

\node[gdoc, minimum width=25pt, minimum height=22pt, redit, font=\bfseries\itshape\fs{3.8}{4.6}] (econG) at (801,667) {Economic\\Analysis\\(MAIS)};
\node[gdoc, minimum width=25pt, minimum height=22pt, redit, font=\bfseries\itshape\fs{3.8}{4.6}] (manG) at (838,663) {Manpower\\Estimate};
\node[fbx, draw=grnE, fill=grnD!45!white] (cardG) at (793,685) {CARD};
\node[fbx, draw=grnE, fill=grnD!45!white] (cceG) at (810,685) {CCE};
\node[fbx, draw=grnE, fill=grnD!45!white] (ccpG) at (828,685) {CCP};
\node[fbx, draw=grnE, fill=grnD!45!white, text=statred, font=\bfseries\itshape\fs{3.8}{4}] (iceG) at (845,685) {ICE};
\coordinate (iceEndG) at (860,685);
\node[small] (mmG) at (793,694) {MDAP/MAIS};
\node[small] (mdG1) at (828,694) {MDAP};
\node[small] (mdG2) at (845,694) {MDAP};
\node[affb, draw=grnE, fill=grnD!55!white] (affG) at (829.5,705.5) {Affordability\\Analysis};
\node[ffdia, fill=grnL] (ffG) at (864,706) {Full\\Funding in\\FYDP};
\node[font=\bfseries\fs{7}{7}] (proc) at (912,706) {Procurement};
\node[font=\bfseries\fs{7}{7}] (om) at (1030,706) {Operations \& Maintenance};
\node[align=center, font=\bfseries\fs{4.3}{6.5}, text=regblue] (scG) at (837,720.5) {Should Cost\\Targets};
\node[tgt] (tgtG) at (855,729) {};
\coordinate (tgtEndG) at (1071,728);

% acronyms
\node[font=\bfseries\fs{13}{15}, align=center] (acrTitle) at (1143,100) {Acronyms \&\\Abbreviations};
\node[draw=gray!70, fill=white, anchor=north west, text width=104pt, align=left, inner sep=1.2pt, font=\fs{4.8}{6.86}] (acrList) at (1091,116)
{ACAT -- Acquisition Category\\
AoA -- Analysis of Alternatives\\
APB -- Acquisition Program  Baseline\\
ASR -- Alternative Systems Review\\
CARD -- Cost Analysis Requirements\\
\acn Description\\
CCE -- Component Cost Estimate\\
CCP -- Component Cost Position\\
CDD -- Capability Development Document\\
CDD --V -- Capability Development Document\\
\acn Validation\\
CDR -- Critical Design Review\\
CI -- CounterIntelligence\\
CIPs -- Critical Intelligence Parameters\\
CONOPS/OM/MSP -- Concept of\\
Operations/Operational Mode\\
Summary/Mission Profile\\
CPD -- Capability Production Document\\
CSB -- Configuration Steering  Board\\
DCAPE -- Director, Cost Assessment \&\\
\acn Program Evaluation\\
DRFPRD -- Development Request for\\
\acn Proposals Release Decision\\
DT\&E -- Developmental Test \& Evaluation\\
DoDI -- Department of Defense Instruction\\
DOT\&E -- Director of Operational Test \&\\
\acn Evaluation\\
ECPs -- Engineering Change Proposals\\
EMD -- Engineering \& Manufacturing\\
Development\\
EOA -- Early Operational Assessment\\
FCA -- Functional Configuration Audit\\
FD -- Full Deployment\\
FOC -- Full Operational Capability\\
FOT\&E -- Follow-on Operational Test \&\\
Evaluation\\
FRP -- Full-Rate Production\\
FRP/FD -- Full-Rate Production / Full\\
Deployment Decision Review\\
FYDP -- Future Years Defense Program\\
ICD -- Initial Capabilities Document\\
ICE -- Independent Cost Estimate\\
ILA -- Independent Logistics Assessment\\
IOC -- Initial Operational Capability\\
IOT\&E -- Initial Operational Test \& Evaluation\\
ISR -- In-Service Review\\
JITC -- Joint Interoperability Test Command\\
JROC -- Joint Requirements Oversight Council\\
LCCE -- Life Cycle Cost Estimate\\
LCSP -- Life Cycle Sustainment Plan\\
LFT\&E -- Live Fire Test \& Evaluation\\
LMDP -- Life-Cycle Mission Data Plan\\
LRIP -- Low-Rate Initial Production\\
MAIS -- Major Automated Information\\
\acn System\\
MDA -- Milestone Decision Authority\\
MDAP -- Major Defense Acquisition Program\\
MDCITA -- Multi-Discipline\\
Counterintelligence Threat Assessment\\
MDD -- Materiel Development Decision\\
MS -- Milestone\\
MSA -- Materiel Solution Analysis\\
OA -- Operational Assessment\\
OTRR -- Operational Test Readiness Review\\
PBL -- Performance-Based Life-Cycle Product\\
\acn Support; Performance-Based Logistics\\
PCA -- Physical Configuration Audit\\
PDR -- Preliminary Design Review\\
PIR -- Post Implementation Review\\
PM -- Program Manager\\
PMO -- Program Management Office\\
PPBE -- Planning, Programming, Budgeting \&\\
\acn Execution\\
PRR -- Production Readiness Review\\
RDT\&E -- Research, Development, Test \&\\
\acn Evaluation\\
RFP -- Request for Proposal\\
SCRM -- Supply Chain Risk Management\\
SEP -- Systems Engineering Plan\\
SRR -- System Requirements Review\\
SFR -- System Functional Review\\
SVR -- System Verification Review\\
TEMP -- Test \& Evaluation Master Plan\\
TMRR -- Technology Maturation \& Risk\\
\acn Reduction\\
TRA -- Technology Readiness Assessment\\
TRR -- Test Readiness Review\\
VOLT -- Validated Online Lifecycle Threat};
\node[font=\fs{4.6}{5}, text=regblue, below=1.5pt of acrList] (url) {\underline{https://www.dau.mil/tools/t/DAU-Glossary}};

% connectors
\begin{pgfonlayer}{mid}
\draw[line width=2.5pt, draw=gray!55, shorten <=4pt, -{Triangle[length=7pt,width=9pt]}] (title.west) -| (brL);
\draw[line width=2.5pt, draw=gray!55, shorten <=6pt, -{Triangle[length=7pt,width=9pt]}] (title.east) -| (brR);
\draw[phArr] ([xshift=10pt]msaTxt.south west) -- (msaL);
\draw[phArr] ([xshift=-20pt]msaTxt.south east) -- (msaR);
\draw[phArr] (tmrrTxt.south west) -- (tmrrL);
\draw[phArr] (tmrrTxt.south east) -- (tmrrR);
\draw[phArr] (emdTxt.south west) -- (emdL);
\draw[phArr] ([xshift=-23pt]emdTxt.south east) -- (emdR);
\draw[phArr] (pdTxt.south west) -- (pdL);
\draw[phArr, {Latex[length=4pt,width=3.5pt]}-{Latex[length=4pt,width=3.5pt]}] ([yshift=3pt]pdPh.east) -- ([yshift=-1pt]osTxt.west);
\draw[phArr] ([yshift=3pt]osPh.east) -- (osR);
\draw[line width=1pt] (iocTxt) -- (iocDot);
\draw[line width=1pt] (focTxt) -- (focDot);
\draw[line width=0.8pt, gray!70!black, -{Latex[length=4pt,width=4pt]}] ([yshift=14pt]frpBox.east) -- (disp.west);
\draw[puArr, line width=0.6pt, -{Latex[length=3pt,width=3pt]}] (dcape) -- (aoaSG.east);
\draw[puArr, line width=0.6pt, -{Latex[length=3pt,width=3pt]}] (dcape) -- (aoaSP.east);

\draw[parr] (icdDoc.east |- postAoA.west) -- node[above, lbl, text=regblue]{Operational Mode\\Summary /} node[below, lbl, text=regblue]{Mission Profile} (postAoA.west);
\draw[carr, shorten <=4pt, shorten >=4pt] (conopsP.east |- cddDoc.west) -- node[above, lbl, font=\bfseries\fs{5.5}{6}]{Cost-Performance Analysis} node[below, lbl, font=\bfseries\fs{5.5}{6}]{and Trades} (cddDoc.west);
\draw[oarr, shorten >=4pt] (oR1) -- node[above, lbl, font=\bfseries\fs{5.5}{6}]{Refine Requirements} node[below, lbl, font=\bfseries\fs{5.5}{6}]{For Production} (cpdDoc.west |- oR1);

\draw[parr] ([yshift=10pt]ditl.east) -- node[above, lbl, text=regblue]{Develop CIPs} node[below, lbl, text=regblue]{Develop Threat Modules} (voltP.west |- 0,309);
\draw[parr] ([yshift=-10pt]ditl.east) -- node[above, lbl, text=regblue]{Determine Intelligence} node[below, lbl, text=regblue]{Mission Data Dependencies} (lmdpP.west |- 0,329);
\draw[parr] (ditl.south) .. controls (184,440) and (230,485) .. (pppP.west);
\draw[carr, shorten >=15pt] (cR) -- node[above, lbl, font=\bfseries\fs{5.3}{6}]{Refine CIPs \& Threat Modules} node[below, lbl, font=\bfseries\fs{5.3}{6}]{Identify Intelligence Mission Data} (voltB.west |- cR);
\draw[carr] (cU) -- node[above, lbl, font=\bfseries\fs{5.3}{6}]{Update as Required} (scrmB.west |- cU);
\draw[oarr, shorten >=17pt] (oR2) -- node[above, lbl, font=\bfseries\fs{5.3}{6}]{Refine CIPs, Threat Modules} node[below, lbl, font=\bfseries\fs{5.3}{6}]{and Intelligence Mission Data} (voltO.west |- oR2);
\draw[oarr] (oR3) -- node[above, lbl, font=\bfseries\fs{5.3}{6}]{Update as Required} (scrmO.west |- oR3);
\draw[garr] (voltO.east |- 0,317) -- node[above, lbl, font=\bfseries\fs{5.3}{6}]{Refine CIPs, Threat Modules} node[below, lbl, font=\bfseries\fs{5.3}{6}]{and Intelligence Mission Data} (voltG.west |- 0,317);
\draw[garr] (mdcitaO.east |- scrmG.west) -- node[above, lbl, font=\bfseries\fs{5.3}{6}]{Update as Required} (scrmG.west);
\draw[gyarr] (voltG.east |- gyEnd1) -- node[above=1pt, lbl, font=\bfseries\fs{5.3}{6}]{Update as Required} (gyEnd1);
\draw[gyarr] (mdcitaG.east |- gyEnd2) -- node[above=1pt, lbl, font=\bfseries\fs{5.3}{6}]{Update as Required} (gyEnd2);

\draw[vline, cyArr] (tmrrRFP.north |- mAcqS.south) -- (tmrrRFP.north);
\draw[vline, cyArr] (bAcqS.north |- drfBox.south) -- (bAcqS.north);
\draw[vline, cyArr] (bAcqS.south) -- (emdRFP.north);
\draw[vline, orArr] (lripRFP.north |- oAcqS.south) -- (lripRFP.north);
\draw[vline, grArr] (frpRFP.north |- gAcqS.south) -- (frpRFP.north);

\draw[parr] (studyRFP.east) -- node[above, lbl]{Source} node[below, lbl]{Selection} (msaCD.west);
\draw[carr] (tmrrRFP.east) -- node[above, lbl]{Source} node[below, lbl]{Selection} (tmrrCD.west);
\draw[carr] (emdRFP.east) -- node[above, lbl]{Source} node[below, lbl]{Selection} (emdCD.west);
\draw[oarr] (lripRFP.east) -- node[above, lbl]{Source} node[below, lbl]{Selection} (lripCD.west);
\draw[garr] (frpRFP.east) -- node[above, lbl]{Source} node[below, lbl]{Selection} (frpCD.west);

\draw[carr] (proto.east) -- node[above, lbl, font=\bfseries\fs{5.5}{6}]{Competitive} node[below, lbl, font=\bfseries\fs{5.5}{6}]{Prototyping} (protoEnd);
\draw[gray!70!black, dashed, line width=0.5pt] (pdr1.north) .. controls (490,440) and (520,440) .. (pdr2.north);
\draw[carr, shorten <=21pt, shorten >=17pt] (pppP.east) -- node[above, lbl, font=\bfseries\fs{4.5}{5}]{Reassess CI, Cybersecurity and Security Environment} (dpppB.west |- pppP.east);
\draw[oarr, shorten >=8pt] (oRe) -- node[above, lbl, font=\bfseries\fs{4.5}{5}]{Reassess CI, Cybersecurity, and Security Environment} (pppO.west |- oRe);
\draw[garr] (pppO.east) -- node[above, lbl, font=\bfseries\fs{4.8}{5.5}]{Reassess CI, Cybersecurity, and} node[below, lbl, font=\bfseries\fs{4.8}{5.5}]{Security Environment} (pppG.west);

\draw[carr] (dtpS) -- node[below, lbl, font=\bfseries\fs{5}{6}]{Developmental Testing of Prototypes} (dtpE);
\draw[oarr, shorten >=6pt] (dtS) -- node[above, lbl, font=\bfseries\fs{5}{6}]{Developmental Testing} (tempO.west |- dtS);
\draw[oarr] (jitcS) -- node[above, lbl, font=\bfseries\fs{5}{6}]{JITC Interoperability Testing} (jitcE);
\draw[grArr, line width=1.6pt, dotted, -{Triangle[length=5pt,width=6pt]}, shorten <=4pt] (tempO.east |- iote.west) -- node[above=2pt, lbl, font=\bfseries\fs{5}{6}]{DT\&E} (iote.west);
\draw[oarr] (dpsS) -- node[above, lbl, font=\bfseries\fs{5}{6}]{Demonstrate} node[below, lbl, font=\bfseries\fs{5}{6}]{Product Support} (lcspO.west |- dpsS);

\foreach \a/\b in {cardP/cceP, cceP/ccpP, ccpP/iceP, cardB/cceB, cceB/ccpB, ccpB/iceB, cardO/cceO, cceO/ccpO, ccpO/iceO, cardG/cceG, cceG/ccpG, ccpG/iceG}
  \draw[tiny line, gray!60!black] (\a) -- (\b);
\draw[puArr, line width=0.8pt, -{Triangle[length=3pt,width=3.5pt]}] (iceP) -- (iceEndP);
\draw[cyArr, line width=0.8pt, -{Triangle[length=3pt,width=3.5pt]}] (iceB) -- (iceEndB);
\draw[orArr, line width=0.8pt, -{Triangle[length=3pt,width=3.5pt]}] (iceO) -- (iceEndO);
\draw[grArr, line width=0.8pt, -{Triangle[length=3pt,width=3.5pt]}] (iceG) -- (iceEndG);
\draw[tiny line, gray!60!black] (econP) -- (ccpP);
\draw[tiny line, gray!60!black] (econB) -- (ccpB);
\draw[tiny line, gray!60!black] (econG) -- (cceG);
\draw[cyArr, line width=1.4pt, -{Triangle[length=4pt,width=5pt]}] (affB.east) -- (ffB.west);
\draw[cyArr, line width=1.4pt, -{Triangle[length=4pt,width=5pt]}] (tgtB.east) -- (tgtEndB);
\draw[olive, line width=1.6pt, -{Triangle[length=6pt,width=7pt]}] (tgtG.east) -- (tgtEndG);
\end{pgfonlayer}
\end{tikzpicture}
\end{document}
